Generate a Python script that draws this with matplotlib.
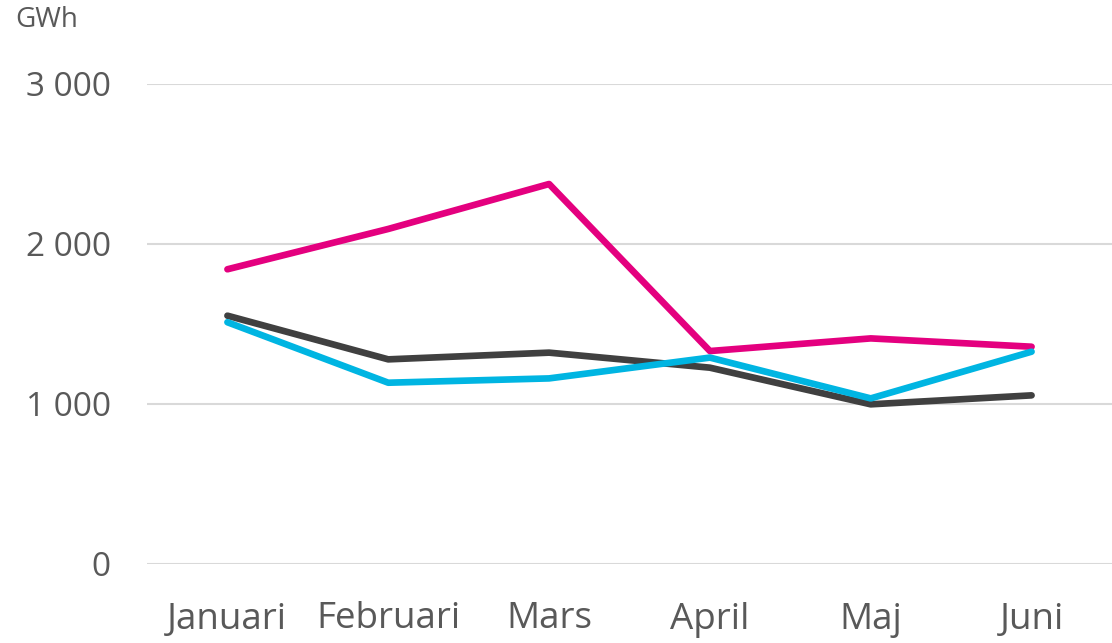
import matplotlib
matplotlib.use('Agg')
import matplotlib.pyplot as plt

# Monthly values (GWh)
months   = ['Januari', 'Februari', 'Mars', 'April', 'Maj', 'Juni']
pink     = [1842, 2094, 2375, 1331, 1410, 1358]
cyan     = [1511, 1133, 1160, 1290, 1035, 1327]
dark     = [1552, 1279, 1321, 1227, 998, 1054]
yticks   = [0, 1000, 2000, 3000]
ylabels  = ['0', '1 000', '2 000', '3 000']

W, H = 1112, 643
fig = plt.figure(figsize=(W/100, H/100), dpi=100)
ax = fig.add_axes([147/W, 1 - 564/H, 1 - 147/W, (564-84)/H])

x = range(len(months))
style = dict(lw=4.8, solid_capstyle='round', solid_joinstyle='round')
ax.plot(x, dark, color='#404040', zorder=3, **style)
ax.plot(x, pink, color='#e4007f', zorder=4, **style)
ax.plot(x, cyan, color='#00b5e2', zorder=5, **style)

ax.set_xlim(-0.5, len(months) - 0.5)
ax.set_ylim(0, 3000)
ax.set_yticks(yticks)
ax.set_yticklabels(ylabels)
ax.set_xticks(list(x))
ax.set_xticklabels(months)
ax.grid(axis='y', color='#d9d9d9', lw=1.5)
ax.set_axisbelow(True)
for s in ax.spines.values():
    s.set_visible(False)
ax.tick_params(length=0)
ax.tick_params(axis='y', pad=26, labelsize=24, labelcolor='#595959')
ax.tick_params(axis='x', pad=27, labelsize=26.5, labelcolor='#595959')
for lbl in ax.get_yticklabels() + ax.get_xticklabels():
    lbl.set_family(['Open Sans', 'DejaVu Sans'])

fig.text(15/W, 1 - 20/H, 'GWh', fontsize=20, color='#595959', va='center', ha='left',
         family=['Open Sans', 'DejaVu Sans'])

fig.savefig('out.png', dpi=100, facecolor='white')
